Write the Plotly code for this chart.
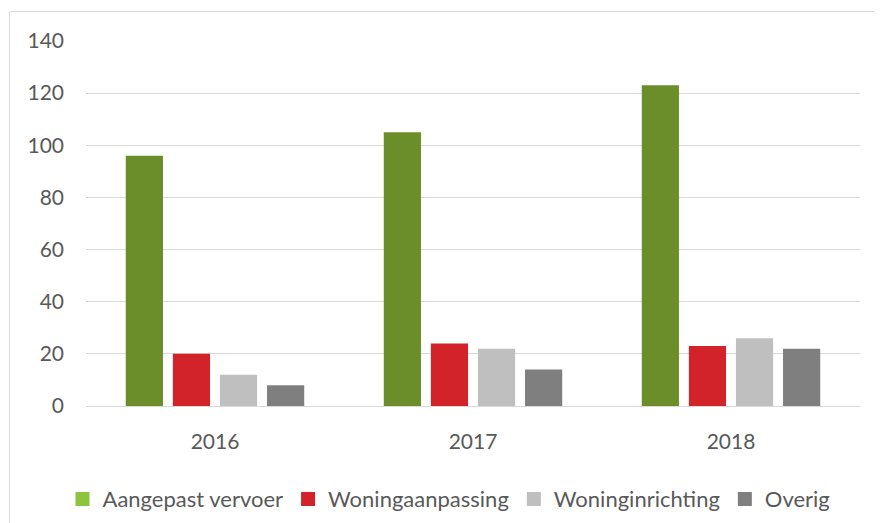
import plotly.graph_objects as go

years = ["2016", "2017", "2018"]
series_names = ["Aangepast vervoer", "Woningaanpassing", "Woninginrichting", "Overig"]
aangepast_vervoer = [96, 105, 123]
woningaanpassing = [20, 24, 23]
woninginrichting = [12, 22, 26]
overig = [8, 14, 22]
y_ticks = [0, 20, 40, 60, 80, 100, 120, 140]

series_values = [aangepast_vervoer, woningaanpassing, woninginrichting, overig]
bar_colors = ["#6B8E2A", "#D2232A", "#BFBFBF", "#7F7F7F"]
legend_colors = ["#8CC43F", "#D2232A", "#BFBFBF", "#7F7F7F"]

FONT = "Lato, 'Open Sans', sans-serif"
TXT = "#595959"

fig = go.Figure()
for name, vals, col in zip(series_names, series_values, bar_colors):
    fig.add_trace(go.Bar(x=years, y=vals, name=name, marker=dict(color=col, line=dict(width=0)),
                         showlegend=False))
for name, col in zip(series_names, legend_colors):
    fig.add_trace(go.Scatter(x=[None], y=[None], mode="markers", name=name,
                             marker=dict(symbol="square", size=14, color=col)))

fig.update_layout(
    width=882, height=523,
    margin=dict(l=78, r=30, t=33, b=125),
    paper_bgcolor="white", plot_bgcolor="white",
    barmode="group", bargap=0.27, bargroupgap=0.21,
    font=dict(family=FONT, size=21, color=TXT),
    legend=dict(orientation="h", xref="container", yref="container",
                x=0.5, xanchor="center", y=0.061, yanchor="middle",
                font=dict(family=FONT, size=22, color=TXT),
                itemsizing="trace", tracegroupgap=0),
    shapes=[dict(type="rect", xref="paper", yref="paper",
                 x0=-76.5 / 774, x1=1.2, y0=-0.5, y1=1 + 29.5 / 365,
                 line=dict(color="#D9D9D9", width=1), fillcolor="rgba(0,0,0,0)", layer="below")],
)
fig.update_xaxes(type="category", showgrid=False, showline=True, linecolor="#D9D9D9", linewidth=1,
                 ticks="", ticklabelstandoff=17, tickfont=dict(size=21, color=TXT), zeroline=False)
fig.update_yaxes(range=[0, 140], tickvals=y_ticks, showgrid=True, gridcolor="#D9D9D9", gridwidth=1,
                 showline=False, zeroline=False, ticks="", ticklabelstandoff=21,
                 tickfont=dict(size=21, color=TXT))

fig.write_html("out.html")
